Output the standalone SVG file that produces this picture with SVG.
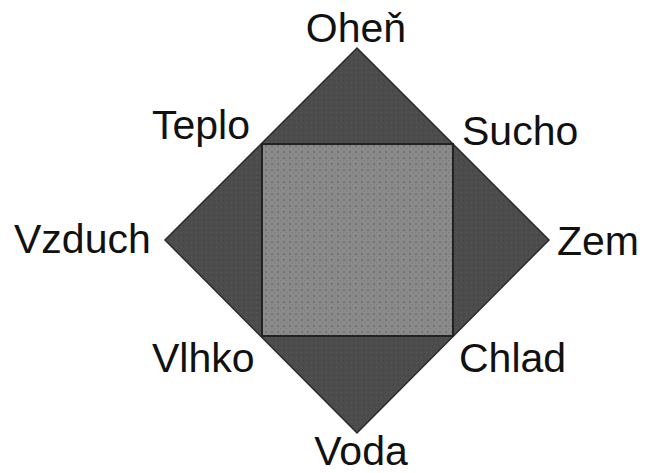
<svg xmlns="http://www.w3.org/2000/svg" width="649" height="473" viewBox="0 0 649 473">
<style>
.lbl{font-family:"Liberation Sans",Arial,sans-serif;font-size:41px;fill:#111;}
</style>
<defs>
<pattern id="dots" width="6" height="6" patternUnits="userSpaceOnUse">
<rect width="6" height="6" fill="#8a8a8a"/>
<rect x="1" y="1" width="2" height="2" fill="#747474"/>
<rect x="4" y="4" width="1" height="1" fill="#777"/>
</pattern>
<pattern id="dark" width="5" height="5" patternUnits="userSpaceOnUse">
<rect width="5" height="5" fill="#4c4c4c"/>
<rect x="1" y="2" width="1" height="1" fill="#5a5a5a"/>
<rect x="3" y="0" width="1" height="1" fill="#434343"/>
</pattern>
</defs>
<rect width="649" height="473" fill="#fff"/>
<g id="diamond">
<polygon points="357,48 549,240 357,433 165,240" fill="url(#dark)" stroke="#2a2a2a" stroke-width="1.5"/>
</g>
<g id="square">
<rect x="262" y="144" width="191" height="192" fill="url(#dots)" stroke="#222" stroke-width="2"/>
</g>
<g id="labels">
<g id="ohen"><text class="lbl" x="356" y="42" text-anchor="middle">Oheň</text></g>
<g id="teplo"><text class="lbl" x="152" y="139">Teplo</text></g>
<g id="sucho"><text class="lbl" x="462" y="145">Sucho</text></g>
<g id="vzduch"><text class="lbl" x="14" y="253">Vzduch</text></g>
<g id="zem"><text class="lbl" x="557" y="255">Zem</text></g>
<g id="vlhko"><text class="lbl" x="152" y="372">Vlhko</text></g>
<g id="chlad"><text class="lbl" x="459" y="372">Chlad</text></g>
<g id="voda"><text class="lbl" x="361" y="465" text-anchor="middle">Voda</text></g>
</g>
</svg>
